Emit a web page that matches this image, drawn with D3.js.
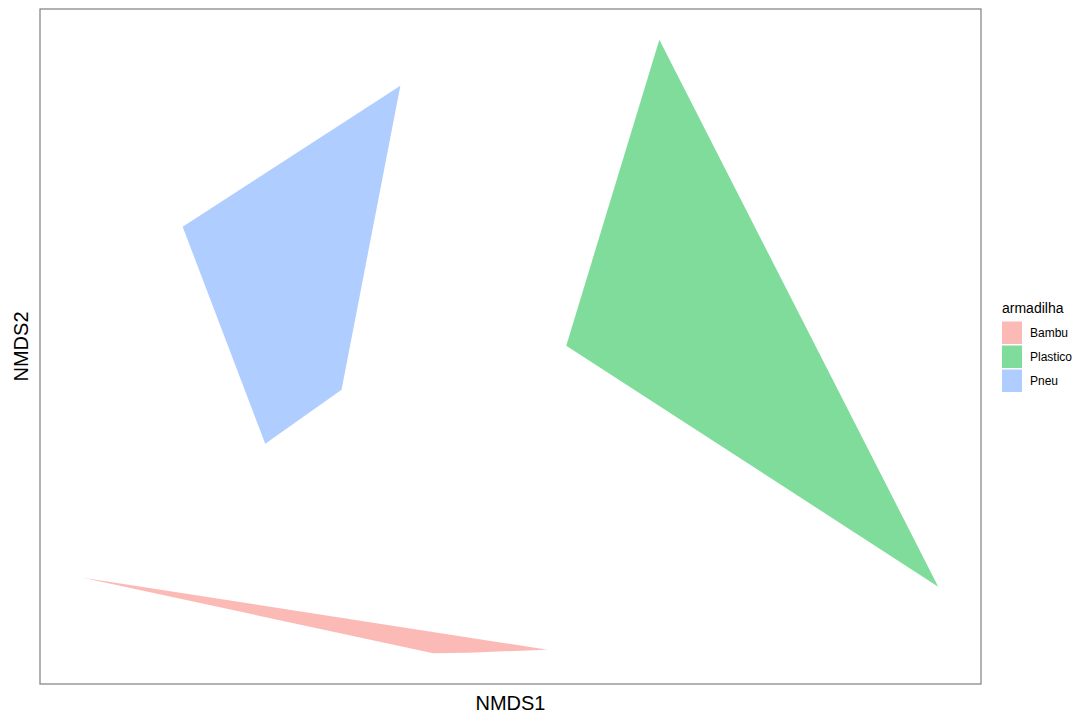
<!DOCTYPE html>
<html>
<head>
<meta charset="utf-8">
<script src="https://cdn.jsdelivr.net/npm/d3@7"></script>
<style>
  html, body { margin: 0; padding: 0; background: #fff; }
  svg { display: block; }
  text { font-family: "Liberation Sans", Arial, sans-serif; }
</style>
</head>
<body>
<div id="chart"></div>
<script>
// NMDS ordination hulls per trap type
const groups = ["Bambu", "Plastico", "Pneu"];
const colors = ["#F8766D", "#00BA38", "#619CFF"];

const hullBambu = [
  [-0.6107, -0.3243],
  [-0.1100, -0.4323],
  [-0.0600, -0.4314],
  [0.0530, -0.4271]
];
const hullPlastico = [
  [0.2130, 0.4443],
  [0.0800, 0.0071],
  [0.6114, -0.3371]
];
const hullPneu = [
  [-0.1570, 0.3786],
  [-0.4680, 0.1771],
  [-0.3500, -0.1329],
  [-0.2410, -0.0557]
];
const hulls = [hullBambu, hullPlastico, hullPneu];

const W = 1075, H = 716;
const panel = { left: 40, right: 981, top: 9, bottom: 684 };

const svg = d3.select("#chart").append("svg")
  .attr("width", W).attr("height", H);

// axis domains with 5% padding on each side
const allPts = hulls.flat();
function padded(ext) {
  const d = (ext[1] - ext[0]) * 0.05;
  return [ext[0] - d, ext[1] + d];
}
const x = d3.scaleLinear()
  .domain(padded(d3.extent(allPts, d => d[0])))
  .range([panel.left, panel.right]);
const y = d3.scaleLinear()
  .domain(padded(d3.extent(allPts, d => d[1])))
  .range([panel.bottom, panel.top]);

const line = d3.line().x(d => x(d[0])).y(d => y(d[1])).curve(d3.curveLinearClosed);

svg.append("g").selectAll("path")
  .data(hulls)
  .join("path")
  .attr("d", d => line(d))
  .attr("fill", (d, i) => colors[i])
  .attr("fill-opacity", 0.5)
  .attr("stroke", "none");

// panel border
svg.append("rect")
  .attr("x", panel.left).attr("y", panel.top)
  .attr("width", panel.right - panel.left)
  .attr("height", panel.bottom - panel.top)
  .attr("fill", "none")
  .attr("stroke", "#7f7f7f")
  .attr("stroke-width", 1.2);

// axis titles
svg.append("text")
  .attr("x", (panel.left + panel.right) / 2)
  .attr("y", 710)
  .attr("text-anchor", "middle")
  .attr("font-size", 20)
  .attr("fill", "#000")
  .text("NMDS1");

svg.append("text")
  .attr("transform", `translate(28, ${(panel.top + panel.bottom) / 2}) rotate(-90)`)
  .attr("text-anchor", "middle")
  .attr("font-size", 20)
  .attr("fill", "#000")
  .text("NMDS2");

// legend
const legend = svg.append("g").attr("transform", "translate(1002, 0)");
legend.append("text")
  .attr("x", 0).attr("y", 313)
  .attr("font-size", 14)
  .attr("fill", "#000")
  .text("armadilha");

const keyTop = 321.5, keyH = 24;
const items = legend.selectAll("g.item")
  .data(groups)
  .join("g")
  .attr("class", "item")
  .attr("transform", (d, i) => `translate(0, ${keyTop + i * keyH})`);

items.append("rect")
  .attr("x", 0).attr("y", 0)
  .attr("width", 20).attr("height", keyH - 1.5)
  .attr("fill", (d, i) => colors[i])
  .attr("fill-opacity", 0.5);

items.append("text")
  .attr("x", 28)
  .attr("y", (keyH - 1.5) / 2)
  .attr("dy", "0.35em")
  .attr("font-size", 12)
  .attr("fill", "#000")
  .text(d => d);
</script>
</body>
</html>
